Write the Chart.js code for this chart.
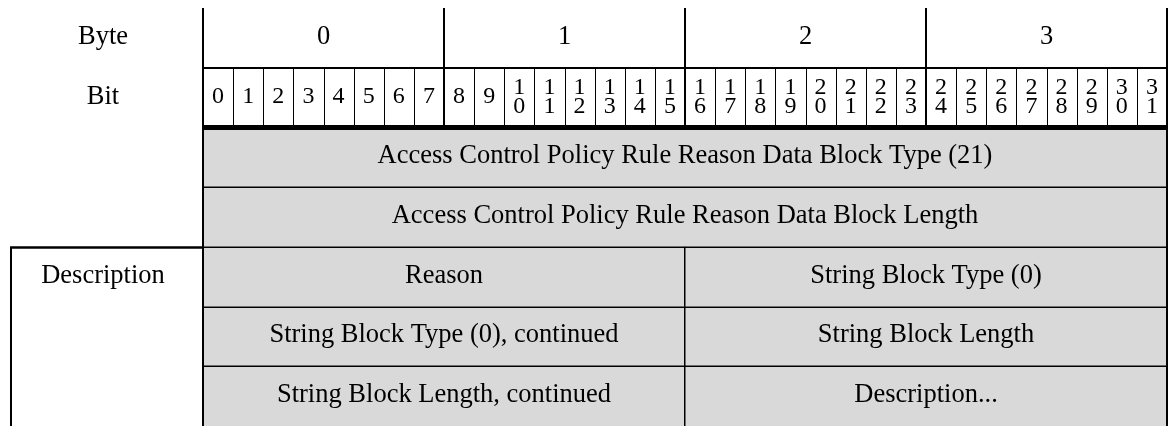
<!DOCTYPE html>
<html>
<head>
<meta charset="utf-8">
<script src="https://cdn.jsdelivr.net/npm/chart.js@4.4.1/dist/chart.umd.min.js"></script>
<style>
  html, body { margin: 0; padding: 0; background: #ffffff; }
  #wrap { width: 1168px; height: 426px; }
</style>
</head>
<body>
<div id="wrap"><canvas id="c" width="1168" height="426"></canvas></div>
<script>
// ---- data ----
const rowCategories = ['byte', 'bit', 'f1', 'f2', 'f3', 'f4', 'f5'];
const headerLabels = ['Byte', 'Bit'];
const sideLabel = 'Description';
const sideLabelRow = 'f3';
const byteLabels = ['0', '1', '2', '3'];
const bitLabels = ['0','1','2','3','4','5','6','7','8','9','10','11','12','13','14','15',
                   '16','17','18','19','20','21','22','23','24','25','26','27','28','29','30','31'];
const fieldNames = [
  'Access Control Policy Rule Reason Data Block Type (21)',
  'Access Control Policy Rule Reason Data Block Length',
  'Reason',
  'String Block Type (0)',
  'String Block Type (0), continued',
  'String Block Length',
  'String Block Length, continued',
  'Description...'
];
const fieldRow   = ['f1', 'f2', 'f3', 'f3', 'f4', 'f4', 'f5', 'f5'];
const fieldStart = [0, 0, 0, 16, 0, 16, 0, 16];
const fieldEnd   = [32, 32, 16, 32, 16, 32, 16, 32];
const totalBits = 32;
const bitsPerByte = 8;

// ---- drawing ----
const SERIF = '"Liberation Serif", "Times New Roman", serif';

const diagramPlugin = {
  id: 'diagram',
  afterDatasetsDraw(chart) {
    const ctx = chart.ctx;
    const xs = chart.scales.x, ys = chart.scales.y;
    const area = chart.chartArea;
    const X = v => xs.getPixelForValue(v);
    const rowIdx = name => rowCategories.indexOf(name);
    const rowC = i => ys.getPixelForValue(i);
    const band = Math.abs(rowC(1) - rowC(0));
    const rowTop = i => rowC(i) - band / 2;
    const rowBot = i => rowC(i) + band / 2;
    const boxLeft = area.left - 192;
    const labelX = area.left - 100;

    ctx.save();
    ctx.strokeStyle = '#000';
    ctx.lineCap = 'butt';
    const line = (x1, y1, x2, y2, w) => {
      ctx.lineWidth = w;
      ctx.beginPath();
      ctx.moveTo(x1, y1);
      ctx.lineTo(x2, y2);
      ctx.stroke();
    };

    // bit separators (thin)
    for (let i = 1; i < totalBits; i++) {
      if (i % bitsPerByte === 0) continue;
      const x = Math.round(X(i)) + 0.5;
      line(x, rowTop(1), x, rowBot(1), 1);
    }
    // row separators in field area
    for (let r = rowIdx('f1'); r < rowCategories.length - 1; r++) {
      const y = Math.round(rowBot(r)) + 0.25;
      line(X(0), y, X(totalBits), y, 1.5);
    }
    // field internal splits
    fieldNames.forEach((n, i) => {
      if (fieldStart[i] > 0) {
        const r = rowIdx(fieldRow[i]);
        const x = Math.round(X(fieldStart[i])) - 0.25;
        line(x, rowTop(r), x, rowBot(r), 1.5);
      }
    });
    // byte separators
    for (let b = 1; b < byteLabels.length; b++) {
      const x = Math.round(X(b * bitsPerByte));
      line(x, area.top, x, rowBot(1), 2);
    }
    // header horizontal
    line(X(0), Math.round(rowBot(0)), X(totalBits), Math.round(rowBot(0)), 2);
    // thick line under bits
    line(X(0) - 1, rowBot(1), X(totalBits) + 1, rowBot(1), 5);
    // main verticals
    line(Math.round(X(0)), area.top, Math.round(X(0)), area.bottom, 2);
    line(Math.round(X(totalBits)), area.top, Math.round(X(totalBits)), area.bottom, 2);
    // description box
    const dr = rowIdx(sideLabelRow);
    line(boxLeft - 1, Math.round(rowTop(dr)) + 0.5, X(0), Math.round(rowTop(dr)) + 0.5, 2.5);
    line(boxLeft, Math.round(rowTop(dr)), boxLeft, area.bottom, 2);

    // texts
    ctx.fillStyle = '#000';
    ctx.textAlign = 'center';
    ctx.textBaseline = 'alphabetic';
    ctx.font = '26.5px ' + SERIF;
    headerLabels.forEach((t, i) => ctx.fillText(t, labelX, rowC(i) + 6));
    ctx.fillText(sideLabel, labelX, rowC(dr) + 6);
    byteLabels.forEach((t, b) => ctx.fillText(t, X(b * bitsPerByte + bitsPerByte / 2), rowC(0) + 6));

    ctx.font = '24px ' + SERIF;
    bitLabels.forEach((t, i) => {
      const cx = (X(i) + X(i + 1)) / 2;
      if (t.length === 1) {
        ctx.fillText(t, cx, rowC(1) + 5);
      } else {
        ctx.fillText(t[0], cx, rowC(1) - 4);
        ctx.fillText(t[1], cx, rowC(1) + 15);
      }
    });

    ctx.font = '26.5px ' + SERIF;
    fieldNames.forEach((t, i) => {
      const r = rowIdx(fieldRow[i]);
      ctx.fillText(t, (X(fieldStart[i]) + X(fieldEnd[i])) / 2, rowC(r) + 6);
    });
    ctx.restore();
  }
};

new Chart(document.getElementById('c'), {
  type: 'bar',
  data: {
    labels: rowCategories,
    datasets: [{
      data: fieldNames.map((n, i) => ({ y: fieldRow[i], x: [fieldStart[i], fieldEnd[i]] })),
      backgroundColor: '#d9d9d9',
      borderWidth: 0,
      inflateAmount: 0,
      categoryPercentage: 1,
      barPercentage: 1
    }]
  },
  options: {
    indexAxis: 'y',
    responsive: false,
    animation: false,
    devicePixelRatio: 1,
    layout: { padding: { left: 203, right: 1, top: 8, bottom: 0 } },
    plugins: { legend: { display: false }, tooltip: { enabled: false } },
    scales: {
      x: { type: 'linear', min: 0, max: totalBits, display: false },
      y: { type: 'category', labels: rowCategories, offset: true, display: false }
    }
  },
  plugins: [diagramPlugin]
});
</script>
</body>
</html>
